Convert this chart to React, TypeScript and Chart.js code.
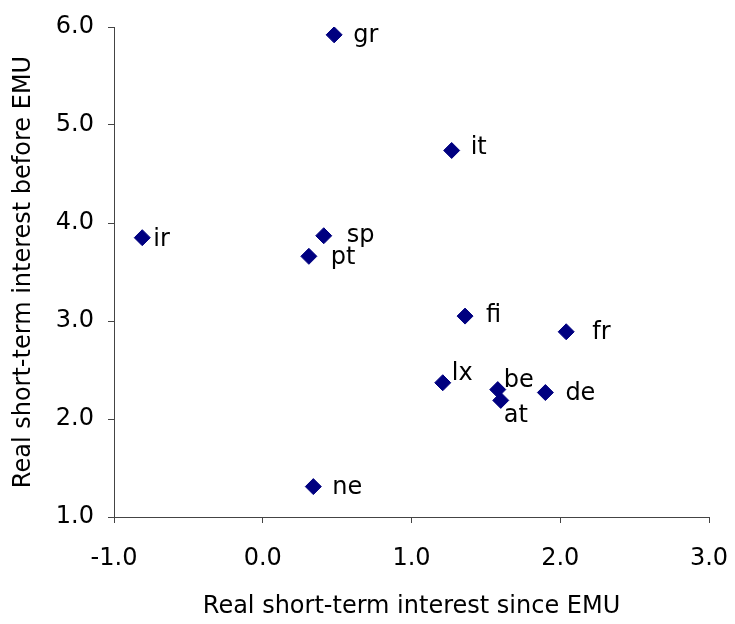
import React, { useEffect, useRef } from "react";
import { Chart, registerables } from "chart.js";

Chart.register(...registerables);

const countries = ["gr", "it", "ir", "sp", "pt", "fi", "fr", "lx", "be", "at", "de", "ne"];
const sinceEMU = [0.48, 1.27, -0.81, 0.41, 0.31, 1.36, 2.04, 1.21, 1.58, 1.6, 1.9, 0.34];
const beforeEMU = [5.92, 4.74, 3.85, 3.87, 3.66, 3.05, 2.89, 2.37, 2.3, 2.19, 2.27, 1.31];
const xTicks = [-1, 0, 1, 2, 3];
const yTicks = [1, 2, 3, 4, 5, 6];

// label placement offsets relative to marker (styling)
const labelDx = [19, 19, 11, 23, 22, 21, 26, 9, 6, 3, 20, 19];
const labelDy = [7, 4, 8, 6, 8, 6, 7, -3, -3, 22, 7, 7];

const FONT = "'DejaVu Sans', sans-serif";

const pointLabels = {
  id: "pointLabels",
  afterDatasetsDraw(chart: any) {
    const ctx = chart.ctx;
    const meta = chart.getDatasetMeta(0);
    ctx.save();
    ctx.font = `24px ${FONT}`;
    ctx.fillStyle = "#000000";
    ctx.textAlign = "left";
    ctx.textBaseline = "alphabetic";
    meta.data.forEach((pt: any, i: number) => {
      ctx.fillText(countries[i], pt.x + labelDx[i], pt.y + labelDy[i]);
    });
    ctx.restore();
  },
};

export default function App() {
  const ref = useRef<HTMLCanvasElement>(null);

  useEffect(() => {
    if (!ref.current) return;
    const data = countries.map((_, i) => ({ x: sinceEMU[i], y: beforeEMU[i] }));
    const chart = new Chart(ref.current, {
      type: "scatter",
      data: {
        datasets: [
          {
            data,
            pointStyle: "rectRot",
            pointRadius: 8,
            pointHoverRadius: 8,
            backgroundColor: "#000080",
            borderColor: "#000080",
            borderWidth: 1,
          },
        ],
      },
      options: {
        responsive: false,
        animation: false,
        devicePixelRatio: 1,
        layout: { padding: { top: 27, right: 26, left: 0, bottom: 0 } },
        plugins: { legend: { display: false }, tooltip: { enabled: false } },
        scales: {
          x: {
            type: "linear",
            min: -1,
            max: 3,
            afterFit: (s: any) => {
              s.height = 107;
              s.paddingLeft = 0;
              s.paddingRight = 0;
            },
            afterBuildTicks: (s: any) => {
              s.ticks = xTicks.map((v) => ({ value: v }));
            },
            ticks: {
              color: "#000000",
              font: { family: FONT, size: 24 },
              padding: 21,
              maxRotation: 0,
              callback: (v: any) => Number(v).toFixed(1),
            },
            grid: {
              display: true,
              drawOnChartArea: false,
              drawTicks: true,
              tickLength: 6,
              color: "#444444",
            },
            border: { display: true, color: "#444444", width: 1 },
            title: {
              display: true,
              text: "Real short-term interest since EMU",
              color: "#000000",
              font: { family: FONT, size: 24 },
              padding: { top: 0, bottom: 3 },
            },
          },
          y: {
            type: "linear",
            min: 1,
            max: 6,
            afterFit: (s: any) => {
              s.width = 114;
              s.paddingTop = 0;
              s.paddingBottom = 0;
            },
            afterBuildTicks: (s: any) => {
              s.ticks = yTicks.map((v) => ({ value: v }));
            },
            ticks: {
              color: "#000000",
              font: { family: FONT, size: 24 },
              padding: 14,
              callback: (v: any) => Number(v).toFixed(1),
            },
            grid: {
              display: true,
              drawOnChartArea: false,
              drawTicks: true,
              tickLength: 6,
              color: "#444444",
            },
            border: { display: true, color: "#444444", width: 1 },
            title: {
              display: true,
              text: "Real short-term interest before EMU",
              color: "#000000",
              font: { family: FONT, size: 24 },
              padding: { top: 9, bottom: 0 },
            },
          },
        },
      },
      plugins: [pointLabels],
    });
    return () => chart.destroy();
  }, []);

  return (
    <div style={{ position: "fixed", left: 0, top: 0, width: 735, height: 624, background: "#ffffff" }}>
      <canvas ref={ref} width={735} height={624} style={{ display: "block" }} />
    </div>
  );
}
